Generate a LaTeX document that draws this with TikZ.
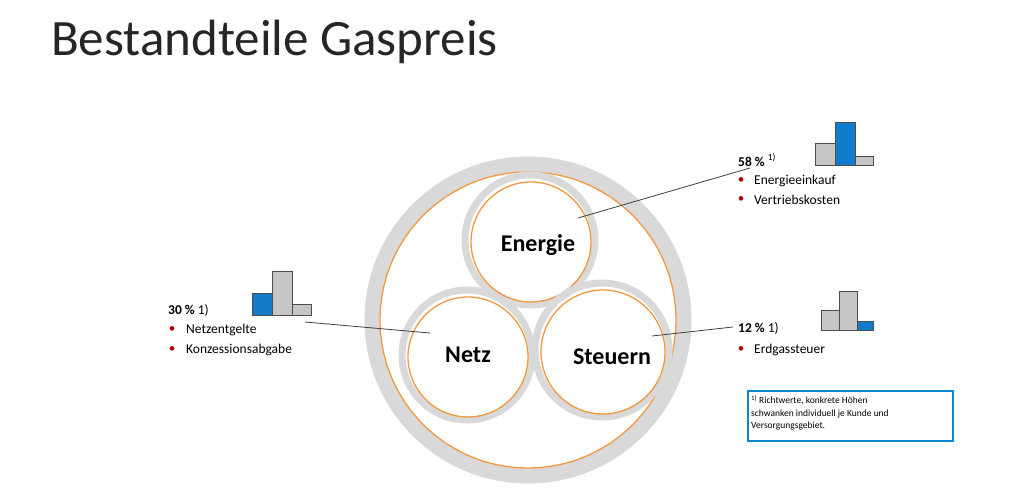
\documentclass[tikz,border=0pt]{standalone}
\usepackage{fontspec}
\setmainfont{Carlito}
\begin{document}
\begin{tikzpicture}[x=1pt,y=-1pt,
  ringg/.style={draw=gray!30,line width=7},
  ringo/.style={draw=orange!75!brown!80!white,line width=1.3},
  lead/.style={draw=black!75,line width=0.8},
  gbar/.style={draw=black!70,fill=gray!45,line width=0.6},
  bbar/.style={draw=black!70,fill=cyan!60!blue,line width=0.6},
  lbl/.style={font=\fontsize{24}{28}\selectfont\bfseries},
  txt/.style={anchor=west,font=\fontsize{13.5}{15}\selectfont,inner sep=0},
  bul/.style={text=red!70!black,font=\fontsize{13}{15}\selectfont,inner sep=0}]
\path[fill=white] (0,0) rectangle (1024,503);
\useasboundingbox (0,0) rectangle (1024,503);
\node[anchor=west,inner sep=0,font=\fontsize{51}{55}\selectfont,text=black!85] (title) at (51,42) {Bestandteile Gaspreis};
% outer ring
\draw[draw=gray!30,line width=15] (528,320) circle[radius=156];
\draw[ringo] (528,320) circle[radius=148];
% inner circles
\draw[ringg] (530,240) circle[radius=65];
\draw[ringo] (531,242) circle[radius=60];
\draw[ringg] (467,355) circle[radius=65];
\draw[ringo] (468,357) circle[radius=60];
\draw[ringg] (602,350) circle[radius=67];
\draw[ringo] (603,352) circle[radius=62];
\node[lbl] (en) at (538,245) {Energie};
\node[lbl] (ne) at (468,355) {Netz};
\node[lbl] (st) at (612,357) {Steuern};
\coordinate (enp) at (578,218);
\coordinate (nep) at (430,333);
\coordinate (stp) at (652,336);
% right top
\node[txt,font=\fontsize{13.5}{15}\selectfont\bfseries] (t58) at (738,160) {58 \% \textsuperscript{\mdseries 1)}};
\coordinate (enl) at (750,168);
\draw[lead] (enp) -- (enl);
\node[bul] (b1) at (741,181) {•};
\node[txt] (e1) at (754,181) {Energieeinkauf};
\node[bul] (b2) at (741,200) {•};
\node[txt] (e2) at (754,200) {Vertriebskosten};
\draw[gbar] (815,165) rectangle (835,143);
\draw[bbar] (835,165) rectangle (855,122);
\draw[gbar] (855,165) rectangle (873,156);
% left
\node[txt,font=\fontsize{13.5}{15}\selectfont\bfseries] (t30) at (168,310) {30 \% \mdseries 1)};
\node[bul] (b3) at (172,330) {•};
\node[txt] (n1) at (186,330) {Netzentgelte};
\node[bul] (b4) at (172,350) {•};
\node[txt] (n2) at (186,350) {Konzessionsabgabe};
\coordinate (nl) at (305,322);
\draw[lead] (nep) -- (nl);
\draw[bbar] (252,315) rectangle (272,293);
\draw[gbar] (272,315) rectangle (292,271);
\draw[gbar] (292,315) rectangle (311,304);
% right bottom
\node[txt,font=\fontsize{13.5}{15}\selectfont\bfseries] (t12) at (738,328) {12 \% \mdseries 1)};
\coordinate (stl) at (733,327);
\draw[lead] (stp) -- (stl);
\node[bul] (b5) at (741,350) {•};
\node[txt] (s1) at (754,350) {Erdgassteuer};
\draw[gbar] (821,330) rectangle (839,310);
\draw[gbar] (839,330) rectangle (857,291);
\draw[bbar] (857,330) rectangle (873,321);
% note box
\node[draw=cyan!70!blue,line width=2,minimum width=205,minimum height=50,anchor=north west] (box) at (747,390) {};
\node[anchor=north west,align=left,inner sep=0,font=\fontsize{9.5}{12.5}\selectfont] (note) at (751,395) {\textsuperscript{1)} Richtwerte, konkrete Höhen\\schwanken individuell je Kunde und\\Versorgungsgebiet.};
\end{tikzpicture}
\end{document}
